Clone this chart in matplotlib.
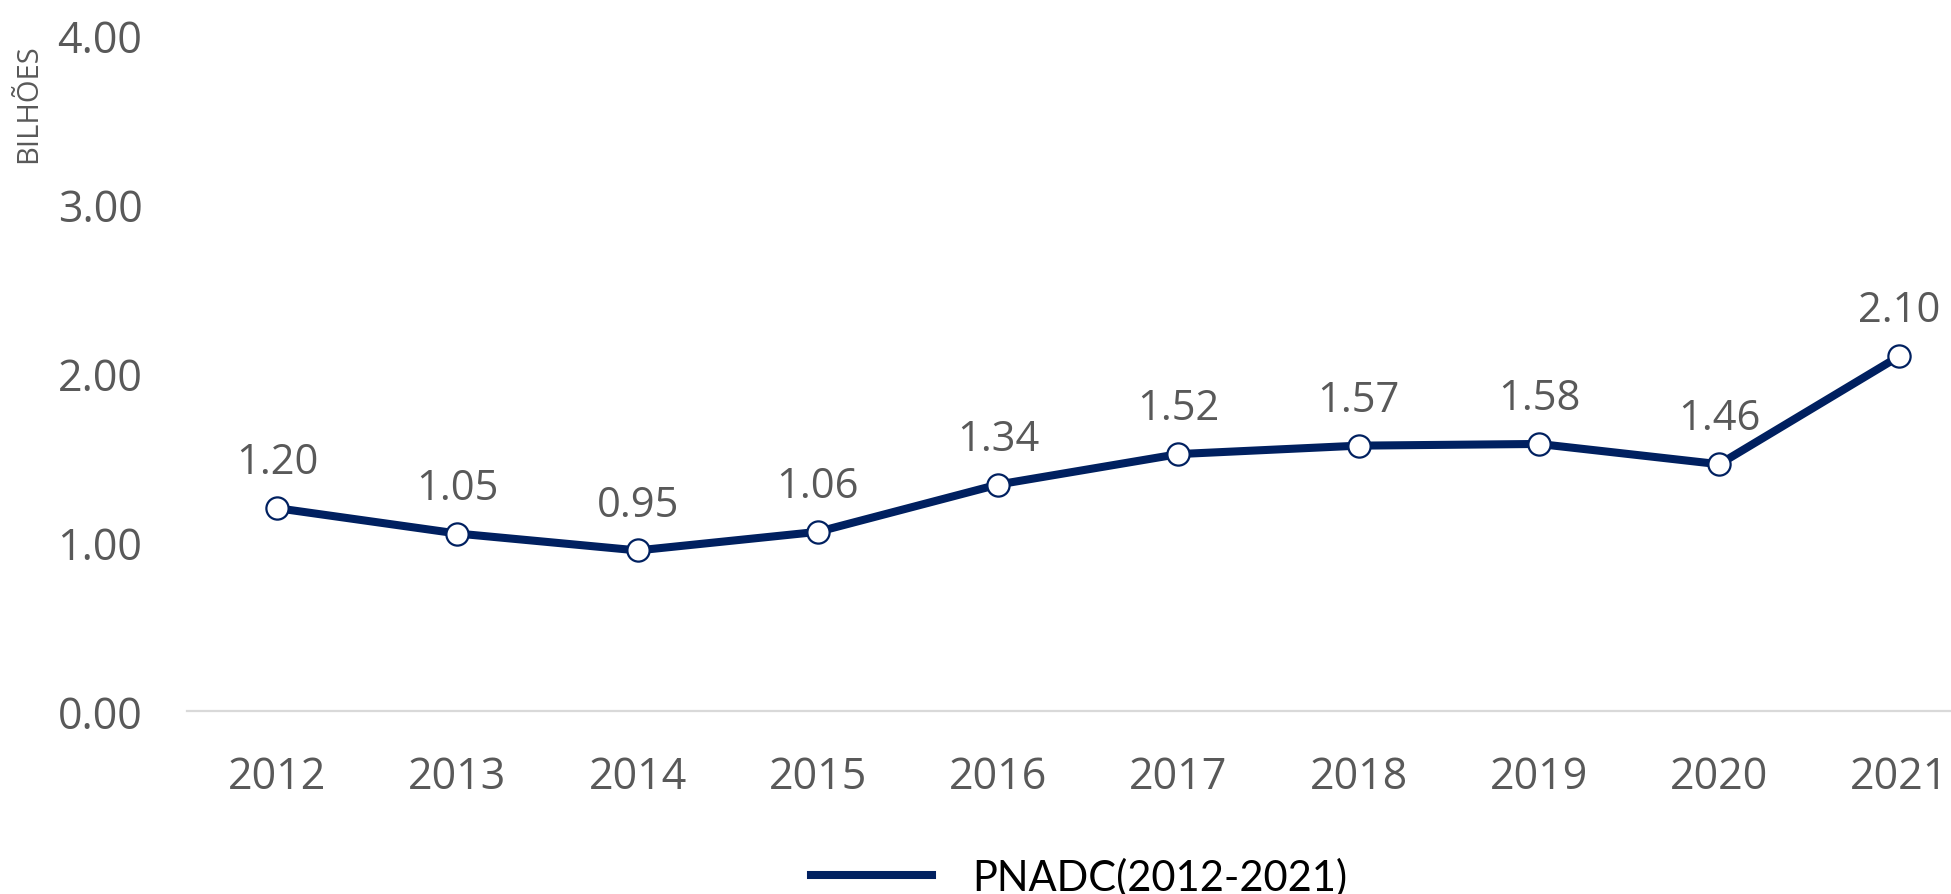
import matplotlib
matplotlib.use("Agg")
import matplotlib.pyplot as plt
from matplotlib.lines import Line2D

# Data
years = ["2012", "2013", "2014", "2015", "2016", "2017", "2018", "2019", "2020", "2021"]
values = [1.20, 1.05, 0.95, 1.06, 1.34, 1.52, 1.57, 1.58, 1.46, 2.10]
y_ticks = [0, 1, 2, 3, 4]
series_name = "PNADC(2012-2021)"
y_label = "BILHÕES"

navy = "#002060"
grey = "#595959"

fig = plt.figure(figsize=(19.51, 8.95), dpi=100)
ax = fig.add_axes([0.0958, 0.2045, 0.924, 0.7553])

x = list(range(len(years)))
ax.plot(x, values, color=navy, linewidth=5.8, marker="o", markersize=16,
        markerfacecolor="white", markeredgecolor=navy, markeredgewidth=1.6,
        clip_on=False, zorder=3)

# Data labels above each point
for xi, v in zip(x, values):
    ax.annotate(f"{v:.2f}", (xi, v), xytext=(0, 33), textcoords="offset points",
                ha="center", va="center", fontsize=30, color=grey,
                family="Open Sans")

ax.set_xlim(-0.5, len(years) - 0.5)
ax.set_ylim(0, 4)
ax.set_xticks(x)
ax.set_xticklabels(years)
ax.set_yticks(y_ticks)
ax.set_yticklabels([f"{t:.2f}" for t in y_ticks])

for lbl in ax.get_xticklabels() + ax.get_yticklabels():
    lbl.set_family("Open Sans")
    lbl.set_color(grey)
ax.tick_params(axis="x", length=0, pad=31, labelsize=31)
ax.tick_params(axis="y", length=0, pad=32, labelsize=31)

for side in ["top", "right", "left"]:
    ax.spines[side].set_visible(False)
ax.spines["bottom"].set_color("#d9d9d9")
ax.spines["bottom"].set_linewidth(1.6)

fig.text(0.0148, 0.884, y_label, rotation=90, ha="center", va="center",
         fontsize=21, color=grey, family="Open Sans")

handle = Line2D([], [], color=navy, linewidth=5.8)
leg = fig.legend([handle], [series_name], loc="center",
                 bbox_to_anchor=(0.553, 0.019), frameon=False,
                 handlelength=2.9, handletextpad=0.96, borderpad=0,
                 prop={"family": "Lato", "size": 30})
for t in leg.get_texts():
    t.set_color("black")

fig.savefig("out.png", dpi=100)
